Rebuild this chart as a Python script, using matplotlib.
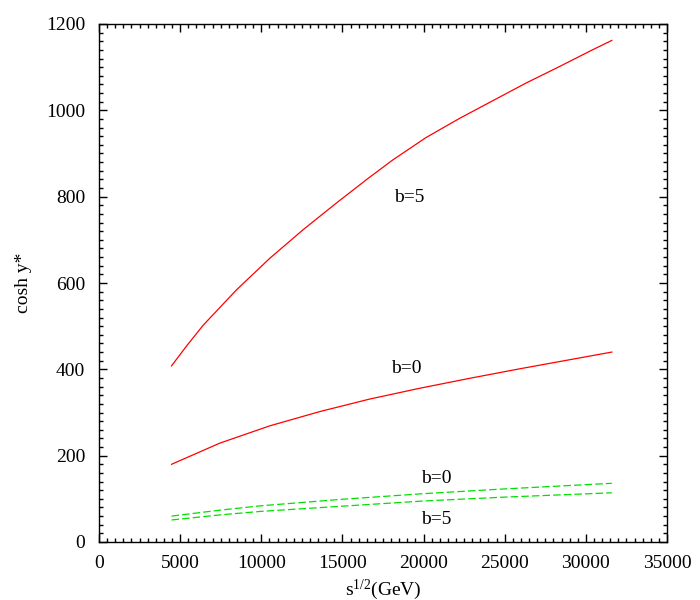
import matplotlib
matplotlib.use("Agg")
import matplotlib.pyplot as plt
from matplotlib.ticker import MultipleLocator

plt.rcParams['font.family'] = ['Liberation Serif', 'DejaVu Serif']
plt.rcParams['mathtext.fontset'] = 'custom'
plt.rcParams['mathtext.rm'] = 'Liberation Serif'

# red, b=5
x_r5 = [4470, 5393, 6415, 8469, 10517, 12565, 14619, 16605, 18100, 20154, 22202, 24250, 26303, 28352, 30400, 31600]
y_r5 = [408, 454, 502, 584, 657, 723, 785, 843, 885, 937, 981, 1022, 1063, 1101, 1140, 1162]

# red, b=0
x_r0 = [4470, 7442, 10517, 13592, 16667, 19742, 22817, 25892, 28967, 31600]
y_r0 = [180, 229, 269, 302, 331, 356, 379, 401, 422, 440]

# green, b=0 (upper) and b=5 (lower)
x_g = [4470, 7500, 10000, 15000, 20000, 25000, 31600]
y_g0 = [60, 74, 84, 99, 112, 123, 136]
y_g5 = [51, 63, 71, 83, 95, 104, 114]

labels = [("b=5", 19127, 799), ("b=0", 18942, 401), ("b=0", 20787, 148), ("b=5", 20787, 51)]

fig = plt.figure(figsize=(7, 6), dpi=100)
ax = fig.add_axes([99/700, 58/600, 568/700, 518/600])

ax.plot(x_r5, y_r5, color='#ff0000', lw=0.9)
ax.plot(x_r0, y_r0, color='#ff0000', lw=0.9)
ax.plot(x_g, y_g0, color='#00e000', lw=0.9, dashes=(6, 2.5))
ax.plot(x_g, y_g5, color='#00e000', lw=0.9, dashes=(6, 2.5))

for t, xx, yy in labels:
    ax.text(xx, yy, t, ha='center', va='center', fontsize=14)

ax.set_xlim(0, 35000)
ax.set_ylim(0, 1200)
ax.xaxis.set_major_locator(MultipleLocator(5000))
ax.xaxis.set_minor_locator(MultipleLocator(500))
ax.yaxis.set_major_locator(MultipleLocator(200))
ax.yaxis.set_minor_locator(MultipleLocator(20))
ax.tick_params(which='both', direction='in', top=True, right=True, labelsize=14, width=1)
ax.tick_params(axis='x', pad=9)
ax.tick_params(axis='y', pad=10)
ax.tick_params(which='major', length=6)
ax.tick_params(which='minor', length=3)
for s in ax.spines.values():
    s.set_linewidth(1)

ax.set_xlabel(r'$\mathregular{s^{1/2}}$(GeV)', fontsize=14)
ax.xaxis.set_label_coords(0.5, -0.068)
ax.set_ylabel('cosh y*', fontsize=14)
ax.yaxis.set_label_coords(-0.118, 0.5)

fig.savefig('out.png', dpi=100)
